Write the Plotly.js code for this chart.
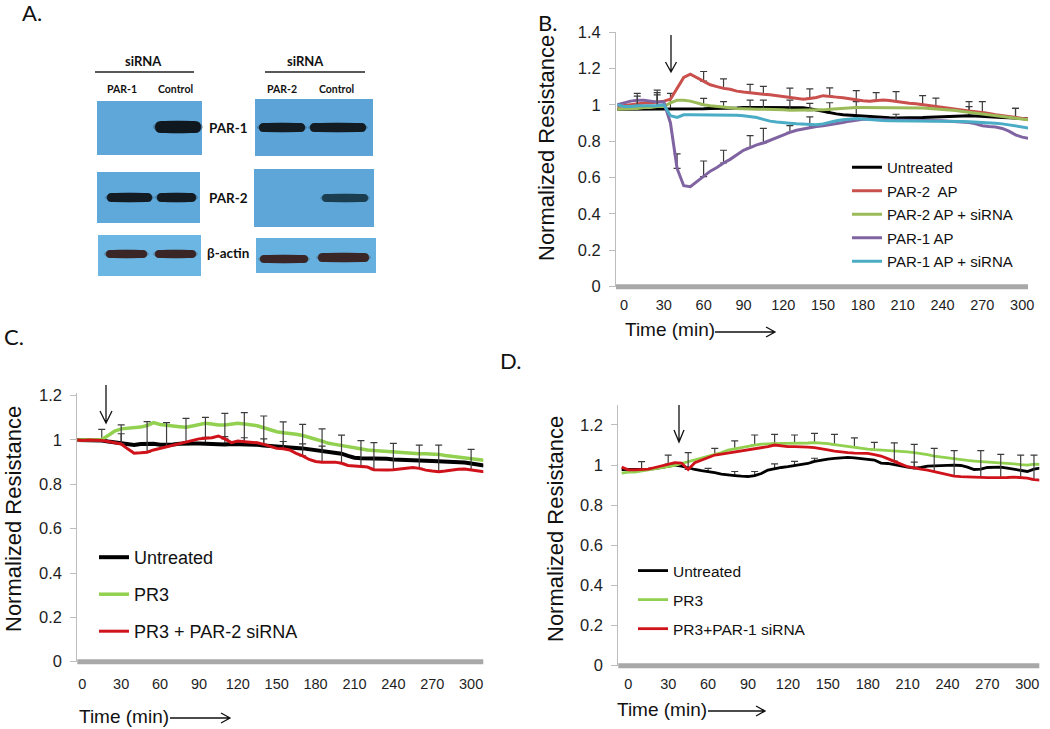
<!DOCTYPE html>
<html><head><meta charset="utf-8">
<script src="https://cdn.plot.ly/plotly-3.0.1.min.js"></script>
<style>html,body{margin:0;padding:0;background:#fff}#chart{width:1050px;height:729px}</style>
</head><body><div id="chart"></div>
<script>
// ---------------- DATA ----------------
const timeB = [-5,
  0,5,10,15,20,25,30,35,40,45,
  50,55,60,65,70,75,80,85,90,95,
  100,105,110,115,120,125,130,135,140,145,
  150,155,160,165,170,175,180,185,190,195,
  200,205,210,215,220,225,230,235,240,245,
  250,255,260,265,270,275,280,285,290,295,
  300,305];
const timeCD = [-5,
  0,5,10,15,20,25,30,35,40,45,
  50,55,60,65,70,75,80,85,90,95,
  100,105,110,115,120,125,130,135,140,145,
  150,155,160,165,170,175,180,185,190,195,
  200,205,210,215,220,225,230,235,240,245,
  250,255,260,265,270,275,280,285,290,295,
  300,305,310];

// Panel B
const bUntreated = [0.975,
  0.975,0.975,0.975,0.975,0.975,0.975,0.975,0.975,0.975,0.975,
  0.978,0.978,0.978,0.98,0.98,0.98,0.982,0.982,0.985,0.985,
  0.985,0.985,0.985,0.985,0.985,0.985,0.985,0.983,0.978,0.97,
  0.962,0.955,0.95,0.945,0.942,0.94,0.938,0.935,0.932,0.93,
  0.928,0.927,0.927,0.927,0.928,0.93,0.932,0.933,0.935,0.937,
  0.94,0.94,0.94,0.938,0.937,0.935,0.932,0.93,0.928,0.926,
  0.924,0.922];
const bPar2AP = [0.99,
  0.995,1.0,1.005,1.01,1.01,1.015,1.02,1.03,1.09,1.15,
  1.168,1.15,1.13,1.11,1.10,1.09,1.085,1.075,1.07,1.065,
  1.06,1.058,1.055,1.05,1.045,1.04,1.035,1.03,1.035,1.04,
  1.05,1.048,1.042,1.038,1.032,1.028,1.022,1.02,1.024,1.026,
  1.024,1.018,1.012,1.008,1.005,1.0,0.995,0.99,0.985,0.978,
  0.972,0.968,0.966,0.962,0.958,0.952,0.945,0.94,0.933,0.928,
  0.922,0.92];
const bPar2APsi = [0.975,
  0.975,0.978,0.98,0.985,0.985,0.99,0.99,1.01,1.025,1.025,
  1.02,1.01,1.0,0.995,0.99,0.985,0.983,0.98,0.98,0.978,
  0.976,0.975,0.975,0.975,0.972,0.97,0.97,0.968,0.968,0.97,
  0.972,0.975,0.978,0.98,0.982,0.985,0.985,0.985,0.985,0.985,
  0.985,0.985,0.985,0.985,0.983,0.982,0.98,0.978,0.975,0.972,
  0.968,0.963,0.958,0.953,0.948,0.943,0.94,0.935,0.93,0.925,
  0.92,0.917];
const bPar1AP = [1.0,
  1.01,1.02,1.025,1.025,1.02,1.015,1.015,0.9,0.65,0.555,
  0.55,0.58,0.605,0.635,0.655,0.68,0.70,0.725,0.75,0.765,
  0.78,0.79,0.805,0.82,0.835,0.848,0.86,0.868,0.875,0.88,
  0.885,0.89,0.895,0.903,0.91,0.915,0.92,0.92,0.918,0.915,
  0.915,0.915,0.915,0.915,0.915,0.913,0.912,0.912,0.912,0.91,
  0.908,0.905,0.902,0.895,0.885,0.88,0.878,0.87,0.855,0.835,
  0.822,0.815];
const bPar1APsi = [1.0,
  0.99,0.99,0.995,0.995,0.995,0.995,1.0,0.94,0.93,0.945,
  0.945,0.945,0.945,0.945,0.945,0.945,0.945,0.943,0.94,0.935,
  0.93,0.92,0.91,0.905,0.9,0.898,0.895,0.893,0.89,0.89,
  0.895,0.905,0.912,0.918,0.922,0.925,0.922,0.918,0.915,0.913,
  0.912,0.912,0.912,0.912,0.912,0.912,0.912,0.912,0.912,0.91,
  0.91,0.908,0.906,0.905,0.903,0.9,0.898,0.895,0.89,0.885,
  0.878,0.872];
// Panel B error bars (upper)
const errBUntreatedT = [10,25,35,155,175,260,295];
const errBUntreated  = [0.088,0.106,0.088,0.056,0.077,0.05,0.054];
const errBPar2APT = [60,75,95,105,125,140,155,175,190,205,225,235,260,270,295];
const errBPar2AP  = [0.053,0.052,0.047,0.043,0.052,0.052,0.045,0.05,0.043,0.054,0.05,0.046,0.051,0.059,0.052];
const errBPar2APsiT = [60,75,95,105,125,140];
const errBPar2APsi  = [0.035,0.032,0.048,0.05,0.056,0.04];
const errBPar1APT = [25,40,60,75,95,105,125,140];
const errBPar1AP  = [0.039,0.08,0.086,0.07,0.065,0.08,0.037,0.059];
const errBPar1APsiT = [10,25,205];
const errBPar1APsi  = [0.053,0.072,0.036];

// Panel C
const cUntreated = [1.0,
  1.0,1.0,1.0,0.998,0.993,0.988,0.983,0.978,0.977,0.982,
  0.984,0.983,0.978,0.977,0.98,0.983,0.985,0.984,0.984,0.982,
  0.98,0.978,0.98,0.982,0.982,0.98,0.98,0.978,0.975,0.972,
  0.97,0.968,0.966,0.964,0.962,0.958,0.955,0.952,0.948,0.943,
  0.938,0.928,0.92,0.918,0.918,0.918,0.917,0.915,0.912,0.91,
  0.909,0.908,0.907,0.906,0.905,0.904,0.903,0.902,0.9,0.898,
  0.894,0.888,0.885];
const cPR3 = [1.0,
  1.0,1.0,1.0,1.002,1.02,1.04,1.05,1.052,1.055,1.058,
  1.065,1.078,1.07,1.065,1.063,1.06,1.057,1.063,1.068,1.075,
  1.072,1.068,1.068,1.072,1.075,1.072,1.068,1.064,1.055,1.045,
  1.037,1.033,1.03,1.026,1.02,1.01,1.003,0.995,0.985,0.98,
  0.975,0.968,0.962,0.958,0.955,0.952,0.95,0.947,0.944,0.942,
  0.94,0.938,0.938,0.938,0.937,0.935,0.93,0.926,0.924,0.922,
  0.918,0.912,0.908];
const cPR3si = [1.0,
  0.998,1.0,1.0,0.998,0.993,0.988,0.982,0.96,0.94,0.942,
  0.945,0.955,0.962,0.97,0.977,0.985,0.993,0.998,1.005,1.008,
  1.01,1.018,1.005,0.988,0.995,0.992,0.99,0.987,0.98,0.97,
  0.962,0.96,0.955,0.94,0.928,0.912,0.903,0.9,0.899,0.9,
  0.895,0.885,0.883,0.882,0.878,0.866,0.864,0.864,0.866,0.87,
  0.873,0.876,0.872,0.864,0.86,0.857,0.86,0.865,0.868,0.869,
  0.865,0.858,0.857];
const errCUntreatedT = [15,30,95,110,125,140,155,170,185];
const errCUntreated  = [0.05,0.045,0.03,0.035,0.03,0.03,0.025,0.02,0.02];
const errCPR3siT = [30,50,65,80,95,110,125,140,155,170,185,200,215,225,240,260,275,300];
const errCPR3si  = [0.086,0.138,0.108,0.104,0.094,0.115,0.131,0.128,0.122,0.142,0.15,0.127,0.115,0.122,0.119,0.105,0.12,0.093];

// Panel D
const dUntreated = [0.978,
  0.978,0.978,0.978,0.98,0.983,0.988,0.995,1.0,0.995,0.985,
  0.978,0.972,0.968,0.962,0.955,0.95,0.948,0.945,0.943,0.948,
  0.958,0.975,0.982,0.988,0.992,0.998,1.002,1.008,1.018,1.025,
  1.03,1.033,1.036,1.038,1.036,1.033,1.03,1.025,1.01,1.008,
  1.002,0.995,0.99,0.985,0.988,0.995,0.996,0.998,1.0,1.0,
  0.998,0.99,0.978,0.98,0.988,0.99,0.99,0.985,0.979,0.975,
  0.968,0.98,0.985];
const dPR3 = [0.96,
  0.965,0.965,0.97,0.975,0.98,0.985,0.99,0.998,1.008,1.017,
  1.025,1.033,1.042,1.05,1.062,1.075,1.082,1.087,1.095,1.1,
  1.104,1.106,1.108,1.108,1.108,1.108,1.11,1.11,1.112,1.11,
  1.107,1.102,1.097,1.093,1.088,1.084,1.08,1.077,1.075,1.073,
  1.072,1.07,1.066,1.062,1.058,1.052,1.045,1.04,1.036,1.032,
  1.027,1.023,1.02,1.018,1.016,1.014,1.012,1.01,1.006,1.002,
  1.0,1.005,1.003];
const dPR3si = [0.99,
  0.976,0.976,0.978,0.98,0.988,0.996,1.005,1.012,1.01,0.978,
  1.012,1.025,1.038,1.05,1.055,1.06,1.065,1.07,1.075,1.08,
  1.085,1.092,1.1,1.095,1.092,1.092,1.092,1.09,1.087,1.08,
  1.076,1.07,1.065,1.062,1.06,1.06,1.058,1.052,1.045,1.032,
  1.02,1.005,0.992,0.985,0.98,0.975,0.968,0.962,0.952,0.945,
  0.942,0.94,0.94,0.938,0.937,0.937,0.936,0.938,0.94,0.938,
  0.935,0.927,0.925];
const errDUntreatedT = [60,80,95,110,125,140,215];
const errDUntreated  = [0.016,0.02,0.02,0.024,0.02,0.016,0.03];
const errDPR3T = [65,80,95,110,125,140,155,170,185];
const errDPR3  = [0.033,0.039,0.05,0.045,0.042,0.046,0.051,0.048,0.036];
const errDPR3siT = [10,30,45,200,215,230,245,265,280,295,305];
const errDPR3si  = [0.039,0.045,0.084,0.091,0.118,0.115,0.127,0.134,0.117,0.112,0.123];

const xTicks = [0,30,60,90,120,150,180,210,240,270,300];

// ---------------- DRAWING ----------------
const W = 1050, H = 729;
const X = p => p / W, Y = p => 1 - p / H;
const FONT = '"Liberation Sans", Arial, sans-serif';
const BLOTFONT = 'Lato, "Noto Sans", sans-serif';

function errArr(times, ts, vals) {
  return times.map(t => { const i = ts.indexOf(t); return i >= 0 ? vals[i] : NaN; });
}
function line(x, y, name, color, width, xa, ya, leg, grp, eT, eV) {
  const tr = {x: x, y: y, type: 'scatter', mode: 'lines', name: name,
    line: {color: color, width: width}, xaxis: xa, yaxis: ya, legend: leg, legendgroup: grp,
    hoverinfo: 'skip'};
  if (eT) tr.error_y = {type: 'data', symmetric: false, array: errArr(x, eT, eV), arrayminus: [],
    color: '#3c3c3c', thickness: 1.2, width: 3.5};
  return tr;
}

const traces = [
  line(timeB, bUntreated, 'Untreated', '#000000', 3, 'x', 'y', 'legend', 'b1', errBUntreatedT, errBUntreated),
  line(timeB, bPar2AP, 'PAR-2  AP', '#c9504d', 3, 'x', 'y', 'legend', 'b2', errBPar2APT, errBPar2AP),
  line(timeB, bPar2APsi, 'PAR-2 AP + siRNA', '#9bbb59', 3, 'x', 'y', 'legend', 'b3', errBPar2APsiT, errBPar2APsi),
  line(timeB, bPar1AP, 'PAR-1 AP', '#8064a2', 3, 'x', 'y', 'legend', 'b4', errBPar1APT, errBPar1AP),
  line(timeB, bPar1APsi, 'PAR-1 AP + siRNA', '#4bacc6', 3, 'x', 'y', 'legend', 'b5', errBPar1APsiT, errBPar1APsi),

  line(timeCD, cUntreated, 'Untreated', '#000000', 4, 'x2', 'y2', 'legend2', 'c1', errCUntreatedT, errCUntreated),
  line(timeCD, cPR3, 'PR3', '#92d050', 3.5, 'x2', 'y2', 'legend2', 'c2'),
  line(timeCD, cPR3si, 'PR3 + PAR-2 siRNA', '#d0121b', 3, 'x2', 'y2', 'legend2', 'c3', errCPR3siT, errCPR3si),

  line(timeCD, dUntreated, 'Untreated', '#000000', 2.8, 'x3', 'y3', 'legend3', 'd1', errDUntreatedT, errDUntreated),
  line(timeCD, dPR3, 'PR3', '#92d050', 2.8, 'x3', 'y3', 'legend3', 'd2', errDPR3T, errDPR3),
  line(timeCD, dPR3si, 'PR3+PAR-1 siRNA', '#d0121b', 2.8, 'x3', 'y3', 'legend3', 'd3', errDPR3siT, errDPR3si)
];

// x axis: labels placed by a free-positioned axis; the thick gray base bar is drawn as a shape
function xAxis(dom, rng, labelPos) {
  return {domain: dom, range: rng, anchor: 'free', position: Y(labelPos), showline: true,
    linecolor: 'rgba(0,0,0,0)', linewidth: 5,
    ticks: '', tickvals: xTicks, ticktext: xTicks.map(String), showgrid: false, zeroline: false,
    tickfont: {family: FONT, size: 14.5, color: '#1e1e1e'}, fixedrange: true};
}
function yAxis(dom, rng, anchor) {
  return {domain: dom, range: rng, anchor: anchor, showline: true, linecolor: '#bdbdbd', linewidth: 1,
    ticks: 'outside', ticklen: 6, tickcolor: '#bdbdbd', tickwidth: 1, tick0: 0, dtick: 0.2,
    showgrid: false, zeroline: false, tickfont: {family: FONT, size: 16.5, color: '#1e1e1e'},
    ticklabelstandoff: 5, fixedrange: true};
}

const shapes = [];
function rect(x0, y0, x1, y1, color, layer) {
  shapes.push({type: 'rect', xref: 'paper', yref: 'paper', x0: X(x0), x1: X(x1), y0: Y(y1), y1: Y(y0),
    fillcolor: color, line: {width: 0}, layer: layer || 'below'});
}
function band(x0, y0, x1, y1, color, op) {
  shapes.push({type: 'circle', xref: 'paper', yref: 'paper', x0: X(x0 - 2), x1: X(x1 + 2), y0: Y(y1 + 1), y1: Y(y0 - 1),
    fillcolor: color, opacity: op * 0.3, line: {width: 0}, layer: 'below'});
  const r = (y1 - y0) / 2;
  const d = 'M' + X(x0 + r) + ',' + Y(y0) + 'L' + X(x1 - r) + ',' + Y(y0) +
    'Q' + X(x1) + ',' + Y(y0) + ' ' + X(x1) + ',' + Y(y0 + r) +
    'Q' + X(x1) + ',' + Y(y1) + ' ' + X(x1 - r) + ',' + Y(y1) +
    'L' + X(x0 + r) + ',' + Y(y1) +
    'Q' + X(x0) + ',' + Y(y1) + ' ' + X(x0) + ',' + Y(y0 + r) +
    'Q' + X(x0) + ',' + Y(y0) + ' ' + X(x0 + r) + ',' + Y(y0) + 'Z';
  shapes.push({type: 'path', xref: 'paper', yref: 'paper', path: d,
    fillcolor: color, opacity: op, line: {width: 0}, layer: 'below'});
}
function pathPx(pts, color, width) {
  let d = '';
  pts.forEach(seg => { d += 'M' + seg.map(p => X(p[0]) + ',' + Y(p[1])).join('L'); });
  shapes.push({type: 'path', xref: 'paper', yref: 'paper', path: d, line: {color: color, width: width}});
}
function downArrow(x, y0, y1, hh, hw) {
  pathPx([[[x, y0], [x, y1]], [[x - hw, y1 - hh], [x, y1], [x + hw, y1 - hh]]], '#111', 1.3);
}
function rightArrow(x0, x1, y) {
  pathPx([[[x0, y], [x1, y]], [[x1 - 9, y - 5], [x1, y], [x1 - 9, y + 5]]], '#111', 1.3);
}

// thick gray base bars of the three charts (at y = 0 of each plot area)
rect(616, 284.2, 1028, 289.2, '#a8a8a8', 'above');
rect(77.3, 659.2, 483.3, 664.2, '#a8a8a8', 'above');
rect(618.3, 663.2, 1039.3, 668.2, '#a8a8a8', 'above');

// Western blot panel (A)
rect(97, 101, 202, 155, '#5fa7d9');
rect(255, 99, 373, 156, '#5ca4d7');
rect(97, 172, 200, 223, '#5fa8da');
rect(254, 169, 374, 227, '#5ea6d8');
rect(98, 235, 201, 276, '#6cb6e3');
rect(256, 238, 376, 273, '#66b0e0');
band(155, 121, 201, 133, '#10181f', 1);
band(259, 123, 305, 132, '#131b23', 1);
band(310, 123, 366, 132, '#131b23', 1);
band(107, 193, 152, 202, '#131b23', 1);
band(157, 193, 196, 202, '#131b23', 1);
band(322, 194, 368, 202, '#17394a', 0.95);
band(106, 250, 147, 258, '#3a2626', 1);
band(155, 250, 196, 258, '#3a2626', 1);
band(260, 255, 308, 263, '#3a2626', 1);
band(318, 253, 369, 262, '#3a2626', 1);
pathPx([[[95, 72], [194, 72]], [[265, 72], [365, 72]]], '#222', 1.6);

// arrows
downArrow(671, 35, 72, 10, 5.5);
downArrow(106, 385, 423, 12, 6);
downArrow(679, 405, 442, 12, 5);
rightArrow(715, 775, 332);
rightArrow(170, 230, 718);
rightArrow(708, 765, 711);

const annotations = [];
function txt(text, x, y, size, opts) {
  annotations.push(Object.assign({text: text, x: X(x), y: Y(y), xref: 'paper', yref: 'paper', showarrow: false,
    xanchor: 'center', yanchor: 'middle', font: {family: FONT, size: size, color: '#111'}}, opts || {}));
}
const bold = (s) => ({font: {family: BLOTFONT, size: s, color: '#111', weight: 700}});
const letter = {font: {family: BLOTFONT, size: 22, color: '#111'}};
txt('A.', 20, 12, 22, Object.assign({xanchor: 'left'}, letter));
txt('B.', 547, 22, 22, letter);
txt('C.', 14, 336, 22, letter);
txt('D.', 510, 361, 22, letter);
txt('siRNA', 143, 61, 13, bold(13));
txt('siRNA', 305, 61, 13, bold(13));
txt('PAR-1', 122, 89, 10.5, bold(10.5));
txt('Control', 175, 89, 10.5, bold(10.5));
txt('PAR-2', 282, 89, 10.5, bold(10.5));
txt('Control', 336, 89, 10.5, bold(10.5));
txt('PAR-1', 228, 128, 13.5, bold(13.5));
txt('PAR-2', 228, 198, 13.5, bold(13.5));
txt('β-actin', 228, 253, 13.5, bold(13.5));
// axis titles
txt('Normalized Resistance', 546, 148, 22, {textangle: -90});
txt('Normalized Resistance', 13, 519, 22, {textangle: -90, borderpad: 0});
txt('Normalized Resistance', 555, 529, 22, {textangle: -90});
txt('Time (min)', 623, 330, 19, {xanchor: 'left'});
txt('Time (min)', 77, 716, 19, {xanchor: 'left'});
txt('Time (min)', 615, 709, 19, {xanchor: 'left'});

function legend(x, y, size, gap) {
  return {x: X(x), y: Y(y), xanchor: 'left', yanchor: 'top', bgcolor: 'rgba(0,0,0,0)', borderwidth: 0,
    font: {family: FONT, size: size, color: '#111'}, tracegroupgap: gap, itemwidth: 30, traceorder: 'grouped'};
}

const layout = {
  width: W, height: H, margin: {l: 0, r: 0, t: 0, b: 0},
  paper_bgcolor: '#ffffff', plot_bgcolor: 'rgba(0,0,0,0)',
  font: {family: FONT, color: '#111'}, showlegend: true,
  xaxis: xAxis([X(616), X(1028)], [-6.03, 304.4], 289.2),
  yaxis: yAxis([Y(286.7), Y(32)], [0, 1.4], 'x'),
  xaxis2: xAxis([X(77.3), X(483.3)], [-3.86, 309.4], 669),
  yaxis2: yAxis([Y(661.7), Y(393.4)], [0, 1.21], 'x2'),
  xaxis3: xAxis([X(618.3), X(1039.3)], [-7.52, 309], 668.3),
  yaxis3: yAxis([Y(665.7), Y(404.9)], [0, 1.3], 'x3'),
  legend: legend(847, 151, 15, 1),
  legend2: legend(94, 539, 18, 10.6),
  legend3: legend(633, 554, 15.5, 5.9),
  shapes: shapes, annotations: annotations
};

Plotly.newPlot('chart', traces, layout, {displayModeBar: false, staticPlot: true});
</script>
</body></html>
